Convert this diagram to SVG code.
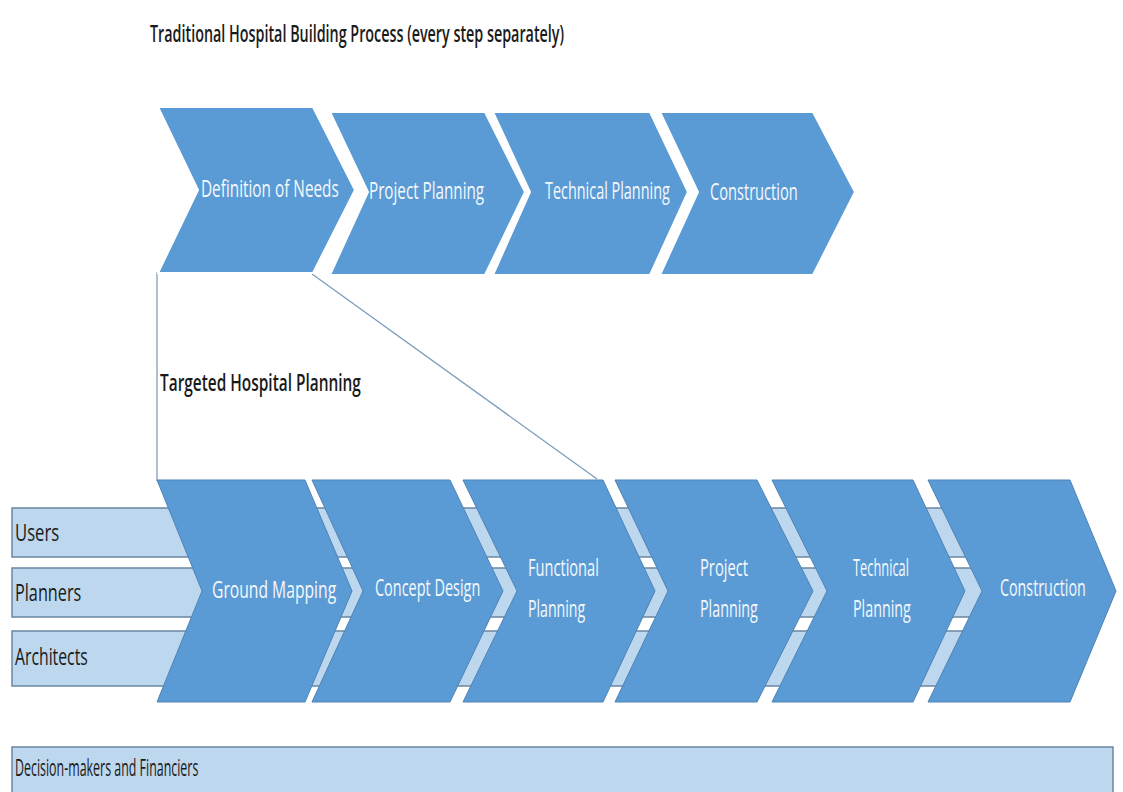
<svg xmlns="http://www.w3.org/2000/svg" width="1123" height="792" viewBox="0 0 1123 792">
<style>
.bg{fill:#ffffff}
.chev{fill:#5b9bd5;stroke:#ffffff;stroke-width:2}
.chevb{fill:#5b9bd5;stroke:#4f83b5;stroke-width:1}
.band{fill:#bdd7ee;stroke:#6a87a3;stroke-width:1.5}
.wt{font-family:"Open Sans","Liberation Sans",sans-serif;font-size:24px;fill:#f4f8fc}
.dk{font-family:"Open Sans","Liberation Sans",sans-serif;font-size:24px;fill:#1a1a1a}
.ttl{font-family:"Open Sans","Liberation Sans",sans-serif;font-size:23px;font-weight:600;fill:#1a1a1a}
.conn{stroke:#7d9dbf;stroke-width:1.3;fill:none}
</style>
<rect class="bg" x="0" y="0" width="1123" height="792"/>
<text class="ttl" transform="translate(150,42) scale(0.65,1)" textLength="637" lengthAdjust="spacingAndGlyphs">Traditional Hospital Building Process (every step separately)</text>

<g id="connectors">
<line class="conn" x1="157" y1="272" x2="157" y2="481"/>
<line class="conn" x1="312" y1="274" x2="597" y2="479"/>
</g>

<g id="top-definition">
<polygon class="chev" points="158,107 313,107 355,190 313,273 158,273 198,190"/>
<text class="wt" transform="translate(201,197) scale(0.65,1)" textLength="212" lengthAdjust="spacingAndGlyphs">Definition of Needs</text>
</g>
<g id="top-project">
<polygon class="chev" points="330,112 485,112 525,192 485,275 330,275 368,192"/>
<text class="wt" transform="translate(369,199) scale(0.65,1)" textLength="177" lengthAdjust="spacingAndGlyphs">Project Planning</text>
</g>
<g id="top-technical">
<polygon class="chev" points="493,112 650,112 688,192 650,275 493,275 530,192"/>
<text class="wt" transform="translate(545,199) scale(0.65,1)" textLength="192" lengthAdjust="spacingAndGlyphs">Technical Planning</text>
</g>
<g id="top-construction">
<polygon class="chev" points="660,112 813,112 855,192 813,275 660,275 698,192"/>
<text class="wt" transform="translate(710,200) scale(0.65,1)" textLength="135" lengthAdjust="spacingAndGlyphs">Construction</text>
</g>

<text class="ttl" transform="translate(160,391) scale(0.65,1)" textLength="309" lengthAdjust="spacingAndGlyphs">Targeted Hospital Planning</text>

<g id="band-users">
<rect class="band" x="12" y="508" width="990" height="49"/>
<text class="dk" transform="translate(15,541) scale(0.65,1)" textLength="68" lengthAdjust="spacingAndGlyphs">Users</text>
</g>
<g id="band-planners">
<rect class="band" x="12" y="568" width="990" height="49"/>
<text class="dk" transform="translate(15,601) scale(0.65,1)" textLength="102" lengthAdjust="spacingAndGlyphs">Planners</text>
</g>
<g id="band-architects">
<rect class="band" x="12" y="631" width="990" height="55"/>
<text class="dk" transform="translate(15,665) scale(0.65,1)" textLength="112" lengthAdjust="spacingAndGlyphs">Architects</text>
</g>

<g id="ground-mapping">
<polygon class="chevb" points="157,480 305,480 352,591 305,702 157,702 202,591"/>
<text class="wt" transform="translate(212,598) scale(0.65,1)" textLength="191" lengthAdjust="spacingAndGlyphs">Ground Mapping</text>
</g>
<g id="concept-design">
<polygon class="chevb" points="312,480 450,480 503,591 450,702 312,702 363,591"/>
<text class="wt" transform="translate(375,596) scale(0.65,1)" textLength="162" lengthAdjust="spacingAndGlyphs">Concept Design</text>
</g>
<g id="functional-planning">
<polygon class="chevb" points="463,480 603,480 655,591 603,702 463,702 517,591"/>
<text class="wt" transform="translate(528,576) scale(0.65,1)" textLength="109" lengthAdjust="spacingAndGlyphs">Functional</text>
<text class="wt" transform="translate(528,617) scale(0.65,1)" textLength="88" lengthAdjust="spacingAndGlyphs">Planning</text>
</g>
<g id="project-planning">
<polygon class="chevb" points="615,480 757,480 813,591 757,702 615,702 668,591"/>
<text class="wt" transform="translate(700,576) scale(0.65,1)" textLength="74" lengthAdjust="spacingAndGlyphs">Project</text>
<text class="wt" transform="translate(700,617) scale(0.65,1)" textLength="89" lengthAdjust="spacingAndGlyphs">Planning</text>
</g>
<g id="technical-planning">
<polygon class="chevb" points="772,480 913,480 965,591 913,702 772,702 827,591"/>
<text class="wt" transform="translate(853,576) scale(0.65,1)" textLength="86" lengthAdjust="spacingAndGlyphs">Technical</text>
<text class="wt" transform="translate(853,617) scale(0.65,1)" textLength="89" lengthAdjust="spacingAndGlyphs">Planning</text>
</g>
<g id="construction">
<polygon class="chevb" points="928,480 1070,480 1116,591 1070,702 928,702 982,591"/>
<text class="wt" transform="translate(1000,596) scale(0.65,1)" textLength="132" lengthAdjust="spacingAndGlyphs">Construction</text>
</g>

<g id="decision-makers">
<rect class="band" x="12" y="747" width="1101" height="50"/>
<text class="dk" transform="translate(15,776) scale(0.65,1)" textLength="282" lengthAdjust="spacingAndGlyphs">Decision-makers and Financiers</text>
</g>
</svg>
